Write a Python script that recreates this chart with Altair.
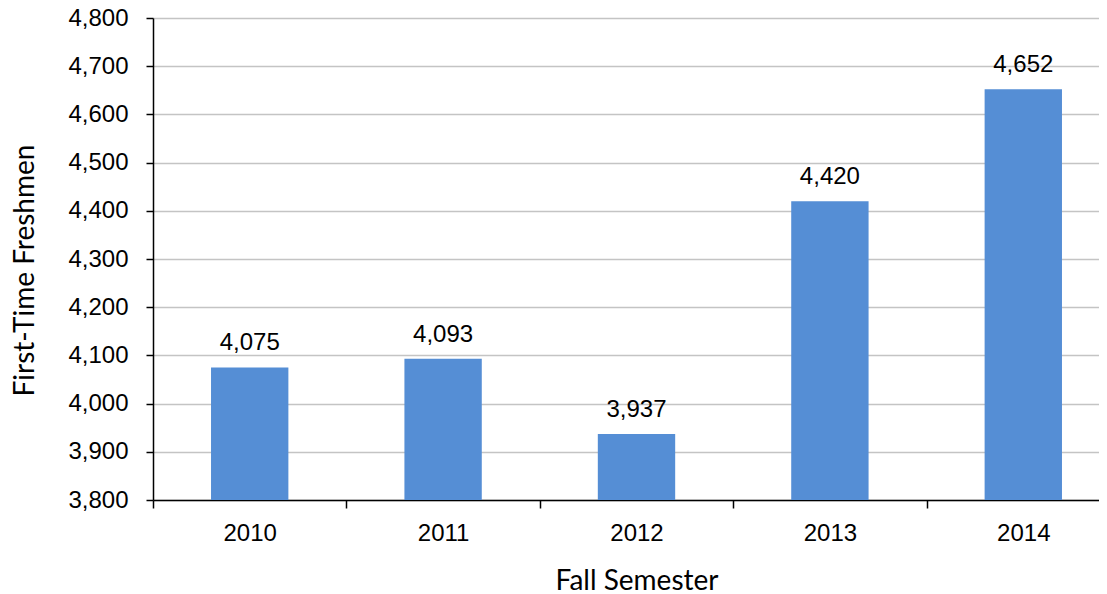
import altair as alt
import pandas as pd

years = ["2010", "2011", "2012", "2013", "2014"]
freshmen = [4075, 4093, 3937, 4420, 4652]
y_ticks = [3800, 3900, 4000, 4100, 4200, 4300, 4400, 4500, 4600, 4700, 4800]

df = pd.DataFrame({"year": years, "count": freshmen})

x_enc = alt.X(
    "year:N",
    title="Fall Semester",
    sort=years,
    scale=alt.Scale(paddingInner=0, paddingOuter=0, range=[0, 967]),
    axis=alt.Axis(
        labelAngle=0,
        tickBand="extent",
        labelFont="Liberation Sans",
        labelFontSize=24,
        labelColor="black",
        labelPadding=13,
        titleFont="Lato",
        titleFontSize=28,
        titleFontWeight="normal",
        titleColor="black",
        titlePadding=22,
        domainColor="black",
        domainWidth=1.5,
        tickColor="black",
        tickWidth=1.5,
        tickSize=8,
        grid=False,
    ),
)

y_enc = alt.Y(
    "count:Q",
    title="First-Time Freshmen",
    scale=alt.Scale(domain=[3800, 4800], nice=False, zero=False),
    axis=alt.Axis(
        values=y_ticks,
        format=",.0f",
        labelFont="Liberation Sans",
        labelFontSize=24,
        labelColor="black",
        labelPadding=18,
        titleFont="Lato",
        titleFontSize=28,
        titleFontWeight="normal",
        titleColor="black",
        titlePadding=28,
        titleY=252,
        domainColor="black",
        domainWidth=1.5,
        tickColor="black",
        tickWidth=1.5,
        tickSize=7,
        gridColor="#C4C4C4",
        gridWidth=1.5,
    ),
)

base = alt.Chart(df).encode(x=x_enc, y=y_enc)

bars = base.mark_bar(color="#558ED5", width=alt.RelativeBandSize(0.40), clip=True)

labels = base.mark_text(
    font="Liberation Sans", fontSize=24, color="black", dy=-24, baseline="middle"
).encode(text=alt.Text("count:Q", format=",.0f"))

chart = (
    alt.layer(bars, labels)
    .properties(
        width=946,
        height=482,
        autosize=alt.AutoSizeParams(type="none"),
        padding={"left": 145, "top": 10, "right": 0, "bottom": 94},
    )
    .configure_view(stroke=None)
)

chart.save("out.html", embed_options={"renderer": "svg", "actions": False})
